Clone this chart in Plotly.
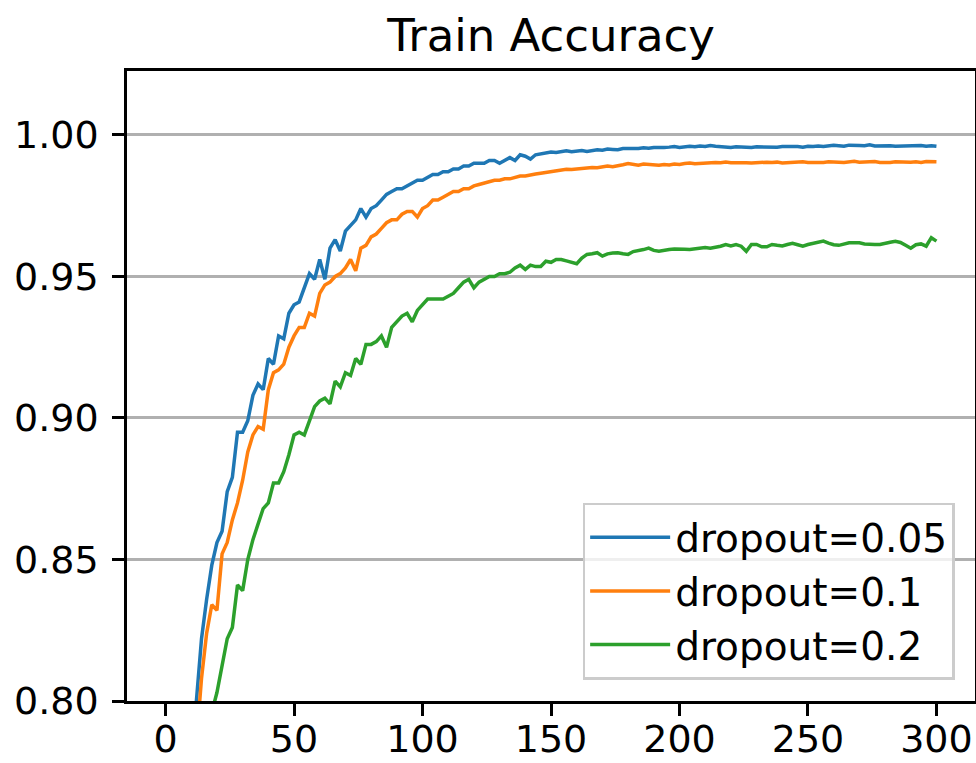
import plotly.graph_objects as go

epochs = list(range(0, 301, 2))

acc_drop005 = [
    0.30, 0.45, 0.58, 0.67, 0.73, 0.77, 0.800, 0.822, 0.836, 0.848,
    0.856, 0.860, 0.874, 0.879, 0.895, 0.895, 0.899, 0.908, 0.912, 0.910,
    0.921, 0.919, 0.929, 0.928, 0.937, 0.940, 0.941, 0.946, 0.951, 0.949,
    0.956, 0.949, 0.960, 0.963, 0.959, 0.966, 0.968, 0.970, 0.974, 0.971,
    0.974, 0.975, 0.977, 0.979, 0.980, 0.981, 0.981, 0.982, 0.983, 0.984,
    0.984, 0.985, 0.986, 0.986, 0.987, 0.987, 0.988, 0.988, 0.989, 0.989,
    0.990, 0.990, 0.990, 0.991, 0.991, 0.990, 0.991, 0.992, 0.991, 0.993,
    0.9925, 0.9915, 0.9930, 0.9933, 0.9937, 0.9940, 0.9938, 0.9942, 0.9944, 0.9941,
    0.9944, 0.9945, 0.9942, 0.9945, 0.9948, 0.9946, 0.9950, 0.9949, 0.9948, 0.9952,
    0.9951, 0.9953, 0.9952, 0.9955, 0.9953, 0.9956, 0.9955, 0.9956, 0.9957, 0.9959,
    0.9956, 0.9958, 0.9960, 0.9958, 0.9961, 0.9959, 0.9963, 0.9960, 0.9958, 0.9959,
    0.9956, 0.9958, 0.9957, 0.9959, 0.9956, 0.9958, 0.9957, 0.9959, 0.9958, 0.9957,
    0.9959, 0.9960, 0.9958, 0.9959, 0.9957, 0.9960, 0.9959, 0.9961, 0.9959, 0.9963,
    0.9964, 0.9962, 0.9960, 0.9964, 0.9965, 0.9963, 0.9962, 0.9965, 0.9961, 0.9962,
    0.9961, 0.9962, 0.9960, 0.9961, 0.9962, 0.9960, 0.9961, 0.9963, 0.9960, 0.9962,
    0.9960,
]

acc_drop01 = [
    0.25, 0.40, 0.53, 0.63, 0.70, 0.75, 0.785, 0.808, 0.824, 0.834,
    0.832, 0.852, 0.856, 0.864, 0.870, 0.878, 0.888, 0.894, 0.897, 0.896,
    0.910, 0.916, 0.917, 0.919, 0.925, 0.929, 0.932, 0.932, 0.937, 0.936,
    0.944, 0.947, 0.948, 0.950, 0.951, 0.953, 0.956, 0.952, 0.960, 0.961,
    0.964, 0.965, 0.967, 0.969, 0.970, 0.970, 0.972, 0.973, 0.973, 0.971,
    0.974, 0.975, 0.977, 0.977, 0.978, 0.979, 0.980, 0.980, 0.981, 0.981,
    0.982, 0.9825, 0.983, 0.9835, 0.984, 0.984, 0.9845, 0.9845, 0.985, 0.9855,
    0.9855, 0.9860, 0.9862, 0.9865, 0.9868, 0.9872, 0.9874, 0.9877, 0.9879, 0.9878,
    0.9880, 0.9879, 0.9883, 0.9885, 0.9884, 0.9888, 0.9890, 0.9888, 0.9893, 0.9895,
    0.9899, 0.9896, 0.9893, 0.9897, 0.9895, 0.9894, 0.9893, 0.9896, 0.9894, 0.9897,
    0.9896, 0.9899, 0.9901, 0.9898, 0.9900, 0.9902, 0.9901, 0.9903, 0.9902, 0.9904,
    0.9902, 0.9903, 0.9901, 0.9902, 0.9901, 0.9903, 0.9902, 0.9904, 0.9903, 0.9904,
    0.9901, 0.9902, 0.9905, 0.9906, 0.9905, 0.9903, 0.9902, 0.9904, 0.9903, 0.9905,
    0.9906, 0.9904, 0.9903, 0.9905, 0.9907, 0.9904, 0.9905, 0.9904, 0.9906, 0.9903,
    0.9902, 0.9903, 0.9905, 0.9904, 0.9903, 0.9904, 0.9905, 0.9903, 0.9906, 0.9904,
    0.9905,
]

acc_drop02 = [
    0.20, 0.33, 0.45, 0.55, 0.63, 0.69, 0.73, 0.76, 0.78, 0.796,
    0.803, 0.812, 0.822, 0.826, 0.841, 0.839, 0.850, 0.857, 0.863, 0.868,
    0.870, 0.877, 0.877, 0.881, 0.887, 0.894, 0.895, 0.894, 0.899, 0.904,
    0.906, 0.907, 0.905, 0.913, 0.911, 0.916, 0.915, 0.921, 0.919, 0.926,
    0.926, 0.927, 0.929, 0.925, 0.932, 0.934, 0.936, 0.937, 0.934, 0.938,
    0.940, 0.942, 0.942, 0.942, 0.942, 0.943, 0.944, 0.946, 0.948, 0.949,
    0.946, 0.948, 0.949, 0.950, 0.950, 0.951, 0.951, 0.9515, 0.953, 0.954,
    0.9525, 0.954, 0.9535, 0.9535, 0.9554, 0.955, 0.956, 0.956, 0.9555, 0.955,
    0.9545, 0.9565, 0.9578, 0.958, 0.9584, 0.9572, 0.958, 0.9583, 0.9584, 0.958,
    0.9578, 0.9588, 0.959, 0.9595, 0.960, 0.9592, 0.9589, 0.9593, 0.9595, 0.9597,
    0.9598, 0.9596, 0.9595, 0.9598, 0.960, 0.9602, 0.960, 0.9603, 0.9607, 0.9613,
    0.9608, 0.9613, 0.9607, 0.9589, 0.9613, 0.9613, 0.9605, 0.9605, 0.9613, 0.961,
    0.9608, 0.9613, 0.9617, 0.9612, 0.9607, 0.9613, 0.9617, 0.962, 0.9625, 0.9618,
    0.9612, 0.961, 0.9615, 0.9619, 0.9619, 0.9619, 0.9615, 0.9613, 0.9613, 0.9613,
    0.9618, 0.9621, 0.9624, 0.962, 0.961, 0.960, 0.9612, 0.9615, 0.9607, 0.9637,
    0.9625,
]

series_names = ["dropout=0.05", "dropout=0.1", "dropout=0.2"]
series_colors = ["#1f77b4", "#ff7f0e", "#2ca02c"]
x_ticks = [0, 50, 100, 150, 200, 250, 300]
y_ticks = [0.80, 0.85, 0.90, 0.95, 1.00]
y_tick_text = ["0.80", "0.85", "0.90", "0.95", "1.00"]

FONT = "DejaVu Sans"

fig = go.Figure()
for name, ys, col in zip(series_names, [acc_drop005, acc_drop01, acc_drop02], series_colors):
    fig.add_trace(go.Scatter(x=epochs, y=ys, mode="lines", name=name,
                             line=dict(color=col, width=3.5)))

fig.update_layout(
    width=976, height=763,
    margin=dict(l=127, r=1, t=71, b=62, autoexpand=False),
    paper_bgcolor="white", plot_bgcolor="white",
    font=dict(family=FONT, size=38, color="black"),
    title=dict(text="Train Accuracy", x=0.5647, xanchor="center",
               y=1 - 35 / 763, yanchor="middle", yref="container",
               font=dict(family=FONT, size=45, color="black")),
    showlegend=True,
    legend=dict(x=0.976, xanchor="right", y=0.3145, yanchor="top",
                bgcolor="rgba(255,255,255,0.8)", bordercolor="#cccccc", borderwidth=2.5,
                font=dict(family=FONT, size=39, color="black"),
                itemwidth=80),
)
fig.update_xaxes(range=[-15, 315], tickvals=x_ticks, ticks="outside", ticklen=12, tickwidth=2.5,
                 tickcolor="black", showline=True, linecolor="black", linewidth=2.5, mirror=True,
                 showgrid=False, zeroline=False, automargin=False, ticklabelstandoff=-9,
                 tickfont=dict(family=FONT, size=38, color="black"))
fig.update_yaxes(range=[0.80, 1.0226], tickvals=y_ticks, ticktext=y_tick_text, ticks="outside",
                 ticklen=12, tickwidth=2.5, tickcolor="black", showline=True, linecolor="black",
                 linewidth=2.5, mirror=True, showgrid=True, gridcolor="#b0b0b0", gridwidth=2.5,
                 zeroline=False, automargin=False, ticklabelstandoff=6,
                 tickfont=dict(family=FONT, size=38, color="black"))

fig.write_html("out.html")
